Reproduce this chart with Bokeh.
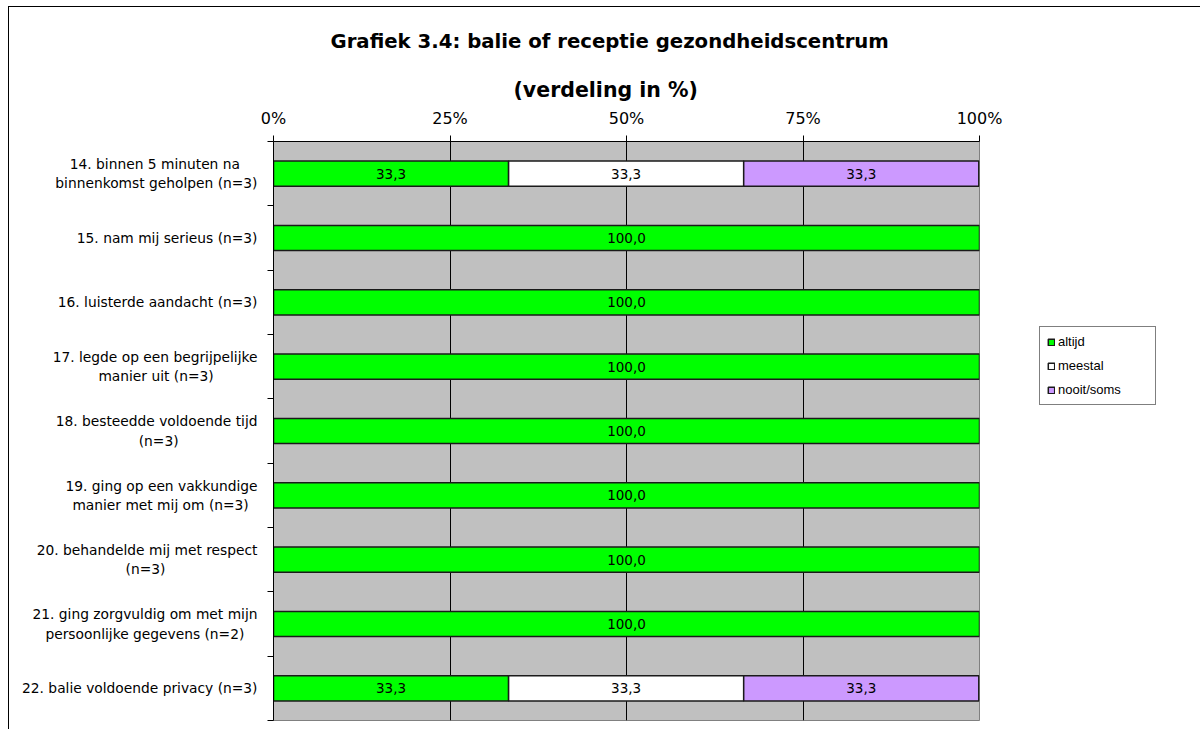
from bokeh.plotting import figure
from bokeh.models import (ColumnDataSource, Range1d, FixedTicker, Legend,
                          LegendItem, Title)
from bokeh.core.properties import value
from bokeh.embed import file_html
from bokeh.resources import INLINE

# ---------------- data ----------------
categories = [
    "14. binnen 5 minuten na\nbinnenkomst geholpen (n=3)",
    "15. nam mij serieus (n=3)",
    "16. luisterde aandacht (n=3)",
    "17. legde op een begrijpelijke\nmanier uit (n=3)",
    "18. besteedde voldoende tijd\n(n=3)",
    "19. ging op een vakkundige\nmanier met mij om (n=3)",
    "20. behandelde mij met respect\n(n=3)",
    "21. ging zorgvuldig om met mijn\npersoonlijke gegevens (n=2)",
    "22. balie voldoende privacy (n=3)",
]
altijd = [33.3, 100.0, 100.0, 100.0, 100.0, 100.0, 100.0, 100.0, 33.3]
meestal = [33.3, 0.0, 0.0, 0.0, 0.0, 0.0, 0.0, 0.0, 33.3]
nooit_soms = [33.3, 0.0, 0.0, 0.0, 0.0, 0.0, 0.0, 0.0, 33.3]
series_names = ["altijd", "meestal", "nooit/soms"]
series_colors = ["#00FF00", "#FFFFFF", "#CC99FF"]
x_ticks = [0, 25, 50, 75, 100]
x_tick_labels = ["0%", "25%", "50%", "75%", "100%"]
title_line1 = "Grafiek 3.4: balie of receptie gezondheidscentrum"
title_line2 = "(verdeling in %)"

FONT = "DejaVu Sans"
n = len(categories)

# approximate DejaVu Sans advance widths (em) to centre the lines of a
# two-line category label within its right-aligned block
_W = {" ": .318, "(": .39, ")": .39, ",": .318, ".": .318, "/": .337, ":": .337,
      "=": .838, "a": .613, "b": .635, "c": .55, "d": .635, "e": .615, "f": .352,
      "g": .635, "h": .634, "i": .278, "j": .278, "k": .579, "l": .278, "m": .974,
      "n": .634, "o": .612, "p": .635, "q": .635, "r": .411, "s": .521, "t": .392,
      "u": .634, "v": .592, "w": .818, "x": .592, "y": .592, "z": .525}


def _width(s):
    return sum(_W.get(ch, .636) for ch in s)


def centred(label):
    lines = label.split("\n")
    if len(lines) < 2:
        return label
    wmax = max(_width(l) for l in lines)
    out = []
    for l in lines:
        pad = int(round((wmax - _width(l)) / 2 / .318))
        out.append(l + "\u00a0" * pad)
    return "\n".join(out)


p = figure(frame_width=706, frame_height=579, output_backend="svg", toolbar_location=None,
           x_range=Range1d(0, 100), y_range=Range1d(n, 0),
           x_axis_location="above", title=None,
           min_border_left=264, min_border_right=218,
           min_border_top=134, min_border_bottom=9)
p.styles = {"margin-left": "8px", "margin-top": "6px",
            "border-left": "1px solid black", "border-top": "1px solid black"}

p.background_fill_color = "#C0C0C0"
p.border_fill_color = "white"
p.outline_line_color = "#808080"
p.outline_line_width = 1

# ---------------- bars ----------------
acc = [0.0] * n
renderers = []
for name, vals, col in zip(series_names, [altijd, meestal, nooit_soms], series_colors):
    ys, lefts, rights, labels, mids = [], [], [], [], []
    for i, v in enumerate(vals):
        if v > 0:
            ys.append(i + 0.5)
            lefts.append(acc[i])
            rights.append(acc[i] + v)
            mids.append(acc[i] + v / 2)
            labels.append(f"{v:.1f}".replace(".", ","))
        acc[i] += v
    src = ColumnDataSource(dict(y=ys, left=lefts, right=rights, mid=mids, label=labels))
    r = p.hbar(y="y", left="left", right="right", height=0.39, source=src,
               fill_color=col, line_color="#1a1a1a", line_width=1.5)
    renderers.append(r)
    p.text(x="mid", y="y", text="label", source=src, text_align="center",
           text_baseline="middle", text_font=value(FONT), text_font_size="13.5px",
           text_color="black")

# ---------------- axes ----------------
xa = p.xaxis[0]
xa.ticker = FixedTicker(ticks=x_ticks)
xa.major_label_overrides = {t: l for t, l in zip(x_ticks, x_tick_labels)}
xa.major_label_text_font = FONT
xa.major_label_text_font_size = "16px"
xa.major_label_text_color = "black"
xa.major_tick_out = 6
xa.major_tick_in = 0
xa.minor_tick_out = 0
xa.minor_tick_in = 0
xa.axis_line_color = "black"
xa.major_tick_line_color = "black"
xa.major_label_standoff = 8

ya = p.yaxis[0]
ya.ticker = FixedTicker(ticks=[i + 0.5 for i in range(n)], minor_ticks=list(range(n + 1)))
ya.major_label_overrides = {i + 0.5: centred(c) for i, c in enumerate(categories)}
ya.major_label_text_font = FONT
ya.major_label_text_font_size = "13.8px"
ya.major_label_text_color = "black"
ya.major_tick_out = 0
ya.major_tick_in = 0
ya.minor_tick_out = 6
ya.minor_tick_in = 0
ya.minor_tick_line_color = "black"
ya.axis_line_color = "black"
ya.major_label_standoff = 10

p.xgrid.ticker = FixedTicker(ticks=[25, 50, 75])
p.xgrid.grid_line_color = "black"
p.xgrid.grid_line_width = 1
p.ygrid.grid_line_color = None

# ---------------- titles ----------------
t2 = Title(text=title_line2, align="left", offset=240, text_font=FONT,
           text_font_style="bold", text_font_size="20.5px", text_color="black",
           standoff=7)
p.add_layout(t2, "above")
t1 = Title(text=title_line1, align="left", offset=57, text_font=FONT,
           text_font_style="bold", text_font_size="19.7px", text_color="black",
           standoff=39)
p.add_layout(t1, "above")

# ---------------- legend ----------------
legend = Legend(items=[LegendItem(label=nm, renderers=[r]) for nm, r in zip(series_names, renderers)],
                location=(60, 315), orientation="vertical",
                label_text_font="Liberation Sans", label_text_font_size="13px",
                label_text_color="black", glyph_width=8, glyph_height=8,
                label_standoff=3, label_height=13, label_width=90,
                padding=7, spacing=9, margin=0,
                border_line_color="black", border_line_width=1,
                background_fill_color="white", background_fill_alpha=1)
p.add_layout(legend, "right")

open("out.html", "w").write(file_html(p, INLINE))
